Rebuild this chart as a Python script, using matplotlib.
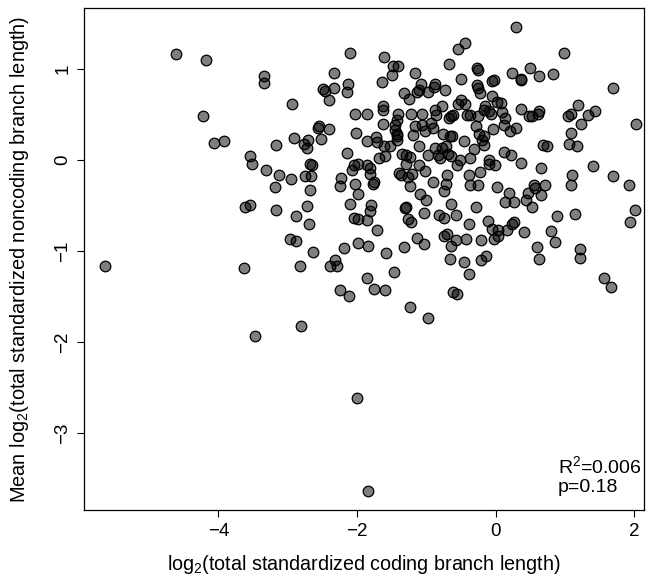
import matplotlib
matplotlib.use("Agg")
import matplotlib.pyplot as plt
import numpy as np

x_vals = [
    -4.61, -4.18, -3.35, -3.35, -4.22, -4.07, -3.92, -3.54, -3.52, -3.31, -3.17,
    -2.10, -1.61, -1.48, -1.41, -2.33, -1.17, -1.49, -0.67, -2.13, -1.64, -2.49, -2.46, -2.33, -2.15,
    -2.41, -1.08, -0.87, -0.89, -1.32, -1.13, -1.11, -0.98, -0.73, -1.25, -2.94, -2.03, -1.85, -1.62,
    -1.62, -1.41, -1.22, -1.06, -0.87, -0.86, -0.77, -0.68, -1.43, -1.45, -1.45, -1.43, -1.62, -1.16,
    -1.07, -0.94, -0.90, -1.02, -0.76, -0.66, -2.55, -2.57, -2.41, -2.02, -1.42, -1.20, -2.91, -2.76,
    -2.71, -2.72, -2.52, -1.86, -1.72, -1.71, -1.61, -1.52, -1.42, -1.35, -1.30, -1.11, -0.88, -0.77,
    -0.71, -0.98, -0.83, -0.81, -0.69, -2.15, -1.69, -1.60, -1.24, -1.29, -2.68, -2.65, -2.04, -1.98,
    -1.85, -1.81, -1.11, -3.12, -2.96, -2.75, -2.66, -2.23, -2.07, -1.82, -1.40, -1.36, -1.21, -1.02,
    -0.70,
    0.30, -0.55, -0.44, 0.98, -0.27, -0.26, 0.24, 0.49, 0.63, 0.83, 0.37, 0.36, -0.50, -0.05, -0.03,
    -0.27, -0.25, -0.22, 1.69, -0.05, -0.50, -0.44, -0.55, 0.02, 0.07, -0.15, -0.17, -0.10, -0.07,
    0.37, 0.48, 0.52, 0.62, 0.61, 0.09, -0.41, -0.37, -0.65, -0.61, -0.25, 0.14, 1.05, 1.08, 1.19,
    1.33, 1.44, 1.23, 2.02, -0.29, 0.12, -0.04, 0.21, 0.29, -0.63, -0.24, -0.17, -0.20, -0.17, -0.45,
    1.09, 1.06, 1.17, 0.68, 0.74, -0.32, 0.12, 0.22, -0.65, -0.51, -0.56, -0.37, -0.10, -0.09, -0.01,
    0.37, 0.65, 1.41, -0.38, -0.22, 1.10, 1.69,
    1.09, 1.93, -0.72, -0.74, -0.37, -0.26, 0.02, 0.19, 0.13, 0.26, 0.55, 0.57, 0.47, 0.44, 0.52,
    0.71, 0.66, -0.64, -0.29, -0.74, -0.57, -0.38, -0.11, -0.06, 0.04, 0.03, -0.03, 0.16, 0.24, 0.27,
    0.41, 0.89, 1.15, 2.01, 1.94, 0.80, 0.85, 0.60, 0.62, 1.22, 1.21, 1.56, 1.67, -0.70, -0.75,
    -0.57, -0.43, -0.21, -0.65, -0.66, -0.46, -0.21, -0.14, -0.38, -0.61, -0.56,
    -3.19, -2.68, -2.25, -2.03, -1.77, -1.76, -1.98, -2.10, -1.80, -1.81, -1.85, -2.04, -1.99, -3.17,
    -2.88, -2.72, -2.69, -2.97, -2.88, -2.63, -2.83, -1.71, -2.19, -1.99, -1.84, -2.32, -2.39, -2.29,
    -1.58, -1.33, -1.46, -1.86, -2.24, -2.11, -1.76, -1.60, -1.23, -0.97, -2.81, -1.27, -1.23, -0.91,
    -1.09, -1.00, -1.31, -1.30, -1.03, -1.26, -1.22, -0.82, -1.14, -1.03,
    -3.54, -3.61, -5.64, -3.63, -3.47,
    -2.00, -1.84,
]

y_vals = [
    1.17, 1.10, 0.92, 0.85, 0.48, 0.19, 0.21, 0.04, -0.04, -0.11, 0.17,
    1.18, 1.13, 1.03, 1.03, 0.96, 0.96, 0.93, 1.05, 0.84, 0.86, 0.78, 0.76, 0.79, 0.75,
    0.66, 0.83, 0.83, 0.80, 0.74, 0.75, 0.77, 0.75, 0.77, 0.67, 0.61, 0.51, 0.51, 0.59,
    0.55, 0.51, 0.50, 0.51, 0.55, 0.49, 0.59, 0.46, 0.44, 0.38, 0.33, 0.29, 0.39, 0.37,
    0.38, 0.41, 0.35, 0.32, 0.29, 0.26, 0.37, 0.35, 0.34, 0.30, 0.26, 0.27, 0.24, 0.18,
    0.22, 0.13, 0.23, 0.21, 0.25, 0.20, 0.15, 0.15, 0.22, 0.07, 0.05, 0.15, 0.13, 0.13,
    0.15, 0.05, 0.06, 0.02, 0.07, 0.08, 0.02, 0.04, 0.03, -0.04, -0.04, -0.05, -0.05, -0.04,
    -0.06, -0.09, -0.06, -0.17, -0.21, -0.18, -0.18, -0.20, -0.11, -0.15, -0.14, -0.16, -0.15, -0.12,
    -0.16,
    1.46, 1.22, 1.29, 1.18, 1.01, 0.99, 0.96, 1.01, 0.92, 0.95, 0.88, 0.89, 0.89, 0.87, 0.88,
    0.82, 0.79, 0.74, 0.79, 0.70, 0.66, 0.62, 0.62, 0.64, 0.63, 0.59, 0.55, 0.54, 0.51,
    0.56, 0.48, 0.48, 0.54, 0.51, 0.53, 0.49, 0.49, 0.48, 0.49, 0.48, 0.46, 0.48, 0.51, 0.60,
    0.49, 0.54, 0.40, 0.40, 0.37, 0.38, 0.34, 0.32, 0.35, 0.26, 0.29, 0.26, 0.22, 0.16, 0.21,
    0.30, 0.18, 0.15, 0.17, 0.15, 0.12, 0.09, 0.06, 0.04, 0.00, -0.05, 0.02, 0.00, -0.04, -0.06,
    -0.03, -0.09, -0.07, -0.16, -0.13, -0.16, -0.18,
    -0.27, -0.27, -0.26, -0.34, -0.27, -0.27, -0.30, -0.36, -0.46, -0.46, -0.27, -0.31, -0.36, -0.44, -0.52,
    -0.27, -0.38, -0.48, -0.52, -0.64, -0.60, -0.70, -0.67, -0.76, -0.77, -0.84, -0.87, -0.77, -0.70, -0.68,
    -0.79, -0.62, -0.59, -0.55, -0.68, -0.78, -0.90, -0.96, -1.09, -0.98, -1.08, -1.30, -1.40, -0.81, -0.84,
    -0.88, -0.87, -0.88, -0.95, -1.09, -1.12, -1.10, -1.05, -1.25, -1.45, -1.47,
    -0.30, -0.33, -0.29, -0.26, -0.26, -0.24, -0.37, -0.48, -0.49, -0.56, -0.66, -0.64, -0.65, -0.55,
    -0.62, -0.51, -0.70, -0.87, -0.89, -1.01, -1.16, -0.77, -0.97, -0.91, -0.95, -1.10, -1.17, -1.17,
    -1.02, -0.96, -1.23, -1.30, -1.43, -1.49, -1.42, -1.43, -1.61, -1.74, -1.82, -0.19, -0.29, -0.24,
    -0.37, -0.44, -0.53, -0.52, -0.58, -0.65, -0.68, -0.60, -0.86, -0.92,
    -0.49, -0.52, -1.17, -1.19, -1.93,
    -2.62, -3.64,
]

x_ticks = [-4, -2, 0, 2]
y_ticks = [-3, -2, -1, 0, 1]
stats_text = "R$^2$=0.006\np=0.18"

plt.rcParams["font.family"] = ["Liberation Sans", "DejaVu Sans"]
plt.rcParams["mathtext.fontset"] = "custom"
plt.rcParams["mathtext.rm"] = "Liberation Sans"
plt.rcParams["mathtext.it"] = "Liberation Sans:italic"
plt.rcParams["mathtext.default"] = "regular"

fig = plt.figure(figsize=(6.53, 5.81), dpi=100)
ax = fig.add_axes([84 / 653, 1 - 510 / 581, (644 - 84) / 653, (510 - 8) / 581])

ax.scatter(x_vals, y_vals, s=58, facecolor=(0, 0, 0, 0.5), edgecolor="black", linewidth=0.9, zorder=3)

ax.set_xlim(-5.94, 2.14)
ax.set_ylim(-3.846, 1.67)
ax.set_xticks(x_ticks)
ax.set_yticks(y_ticks)
ax.tick_params(direction="out", length=5, width=0.8, labelsize=13.5)
ax.tick_params(axis="x", pad=4)
ax.tick_params(axis="y", pad=4)
for lab in ax.get_yticklabels():
    lab.set_rotation(90)
    lab.set_va("center")
for sp in ax.spines.values():
    sp.set_linewidth(0.9)

ax.set_xlabel("log$_2$(total standardized coding branch length)", fontsize=14.2, labelpad=10)
ax.set_ylabel("Mean log$_2$(total standardized noncoding branch length)", fontsize=14.4, labelpad=17)

ax.text(0.846, 0.069, stats_text, transform=ax.transAxes, fontsize=14,
        ha="left", va="center", linespacing=1.15)

fig.savefig("out.png", dpi=100)
